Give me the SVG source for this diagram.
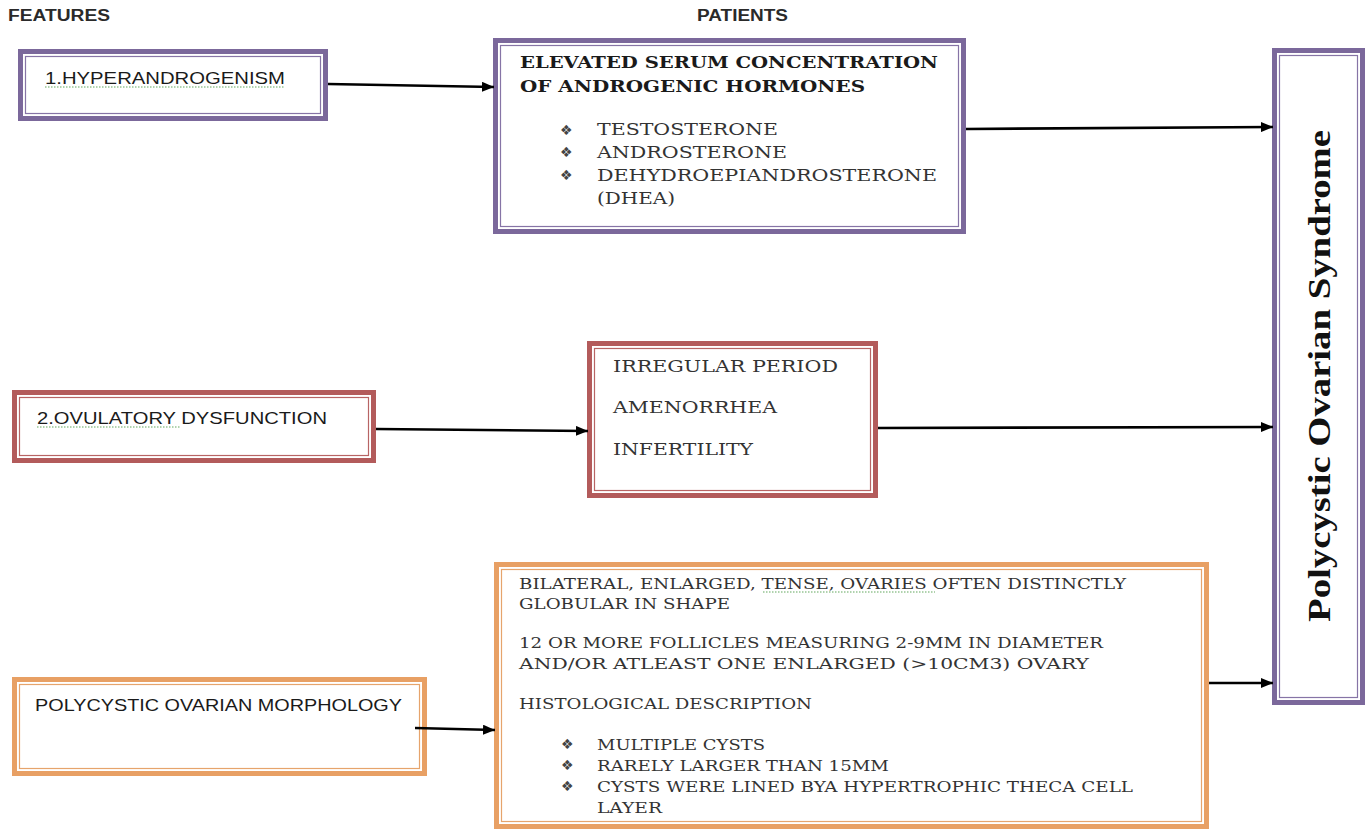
<svg xmlns="http://www.w3.org/2000/svg" width="1365" height="830" viewBox="0 0 1365 830">
<style>
.hdr{font-family:"Liberation Sans",Arial,sans-serif;font-weight:bold;font-size:16px;fill:#2a2a2a}
.sans{font-family:"Liberation Sans",Arial,sans-serif;font-size:17px;fill:#1a1a1a}
.sb{font-family:"DejaVu Serif","Liberation Serif",serif;font-weight:bold;font-size:17px;fill:#1a1a1a}
.sr{font-family:"DejaVu Serif","Liberation Serif",serif;font-size:16px;fill:#333}
.sr2{font-family:"DejaVu Serif","Liberation Serif",serif;font-size:15px;fill:#333}
.bul{font-family:"DejaVu Sans",sans-serif;font-size:14px;fill:#444}
.title{font-family:"Liberation Serif","Times New Roman",serif;font-weight:bold;font-size:32px;fill:#111}
.pO{fill:#fff;stroke:#7b689b;stroke-width:5}
.pI{fill:none;stroke:#8674a6;stroke-width:1.2}
.rO{fill:#fff;stroke:#b35b5b;stroke-width:5}
.rI{fill:none;stroke:#b86464;stroke-width:1.2}
.oO{fill:#fff;stroke:#e8a064;stroke-width:5}
.oI{fill:none;stroke:#e6a46c;stroke-width:1.2}
.sq{fill:none;stroke:#62a85e;stroke-width:1.2;stroke-dasharray:1.5 1.5}
.conn{fill:none;stroke:#000;stroke-width:2.6}
</style>
<defs>
<marker id="ah" markerUnits="userSpaceOnUse" markerWidth="12" markerHeight="10" refX="12" refY="5" orient="auto">
<path d="M0,0 L12,5 L0,10 z" fill="#000"/>
</marker>
</defs>
<rect width="1365" height="830" fill="#fff"/>

<g id="headers">
<text class="hdr" x="8" y="21" textLength="102" lengthAdjust="spacingAndGlyphs">FEATURES</text>
<text class="hdr" x="697" y="21" textLength="91" lengthAdjust="spacingAndGlyphs">PATIENTS</text>
</g>

<g id="hyperandrogenism">
<rect class="pO" x="20.5" y="51.5" width="305" height="67"/>
<rect class="pI" x="25.5" y="56.5" width="295" height="57"/>
<text class="sans" x="45" y="84" textLength="240" lengthAdjust="spacingAndGlyphs">1.HYPERANDROGENISM</text>
<path class="sq" d="M45,87 L285,87"/>
</g>

<g id="elevated">
<rect class="pO" x="495.5" y="40.5" width="468" height="191"/>
<rect class="pI" x="500.5" y="45.5" width="458" height="181"/>
<text class="sb" x="520" y="68" textLength="418" lengthAdjust="spacingAndGlyphs">ELEVATED SERUM CONCENTRATION</text>
<text class="sb" x="520" y="92" textLength="345" lengthAdjust="spacingAndGlyphs">OF ANDROGENIC HORMONES</text>
<text class="bul" x="560" y="135">❖</text>
<text class="bul" x="560" y="157">❖</text>
<text class="bul" x="560" y="180">❖</text>
<text class="sr" x="597" y="135" textLength="181" lengthAdjust="spacingAndGlyphs">TESTOSTERONE</text>
<text class="sr" x="597" y="158" textLength="190" lengthAdjust="spacingAndGlyphs">ANDROSTERONE</text>
<text class="sr" x="597" y="181" textLength="340" lengthAdjust="spacingAndGlyphs">DEHYDROEPIANDROSTERONE</text>
<text class="sr" x="597" y="204" textLength="78" lengthAdjust="spacingAndGlyphs">(DHEA)</text>
</g>

<g id="ovulatory">
<rect class="rO" x="14.5" y="392.5" width="359" height="68"/>
<rect class="rI" x="19.5" y="397.5" width="349" height="58"/>
<text class="sans" x="37" y="424" textLength="290" lengthAdjust="spacingAndGlyphs">2.OVULATORY DYSFUNCTION</text>
<path class="sq" d="M37,427 L180,427"/>
</g>

<g id="irregular">
<rect class="rO" x="589.5" y="343.5" width="286" height="152"/>
<rect class="rI" x="594.5" y="348.5" width="276" height="142"/>
<text class="sr" x="613" y="372" textLength="225" lengthAdjust="spacingAndGlyphs">IRREGULAR PERIOD</text>
<text class="sr" x="613" y="413" textLength="164" lengthAdjust="spacingAndGlyphs">AMENORRHEA</text>
<text class="sr" x="613" y="455" textLength="140" lengthAdjust="spacingAndGlyphs">INFERTILITY</text>
</g>

<g id="morphology">
<rect class="oO" x="14.5" y="679.5" width="410" height="94"/>
<rect class="oI" x="19.5" y="684.5" width="400" height="84"/>
<text class="sans" x="35" y="711" textLength="367" lengthAdjust="spacingAndGlyphs">POLYCYSTIC OVARIAN MORPHOLOGY</text>
</g>

<g id="morphology-details">
<rect class="oO" x="496.5" y="564.5" width="710" height="262"/>
<rect class="oI" x="501.5" y="569.5" width="700" height="252"/>
<text class="sr2" x="519" y="589" textLength="607" lengthAdjust="spacingAndGlyphs">BILATERAL, ENLARGED, TENSE, OVARIES OFTEN DISTINCTLY</text>
<path class="sq" d="M763,592 L935,592"/>
<text class="sr2" x="519" y="609" textLength="211" lengthAdjust="spacingAndGlyphs">GLOBULAR IN SHAPE</text>
<text class="sr2" x="519" y="648" textLength="584" lengthAdjust="spacingAndGlyphs">12 OR MORE FOLLICLES MEASURING 2-9MM IN  DIAMETER</text>
<text class="sr2" x="519" y="669" textLength="570" lengthAdjust="spacingAndGlyphs">AND/OR ATLEAST ONE ENLARGED (&gt;10CM3) OVARY</text>
<text class="sr2" x="519" y="709" textLength="293" lengthAdjust="spacingAndGlyphs">HISTOLOGICAL DESCRIPTION</text>
<text class="bul" x="561" y="749">❖</text>
<text class="bul" x="561" y="770">❖</text>
<text class="bul" x="561" y="791">❖</text>
<text class="sr2" x="597" y="750" textLength="168" lengthAdjust="spacingAndGlyphs">MULTIPLE CYSTS</text>
<text class="sr2" x="597" y="771" textLength="292" lengthAdjust="spacingAndGlyphs">RARELY LARGER THAN 15MM</text>
<text class="sr2" x="597" y="792" textLength="536" lengthAdjust="spacingAndGlyphs">CYSTS WERE LINED BYA HYPERTROPHIC THECA CELL</text>
<text class="sr2" x="597" y="813" textLength="65" lengthAdjust="spacingAndGlyphs">LAYER</text>
</g>

<g id="pcos">
<rect class="pO" x="1274.5" y="50.5" width="88" height="652"/>
<rect class="pI" x="1279.5" y="55.5" width="78" height="642"/>
<text class="title" transform="translate(1330,376) rotate(-90)" text-anchor="middle" textLength="492" lengthAdjust="spacingAndGlyphs">Polycystic Ovarian  Syndrome</text>
</g>

<g id="connectors">
<path class="conn" d="M328,84 L494,87" marker-end="url(#ah)"/>
<path class="conn" d="M966,129 L1273,127" marker-end="url(#ah)"/>
<path class="conn" d="M376,429 L588,431" marker-end="url(#ah)"/>
<path class="conn" d="M878,428 L1273,427" marker-end="url(#ah)"/>
<path class="conn" d="M415,728 L495,730" marker-end="url(#ah)"/>
<path class="conn" d="M1209,683 L1273,683" marker-end="url(#ah)"/>
</g>
</svg>
